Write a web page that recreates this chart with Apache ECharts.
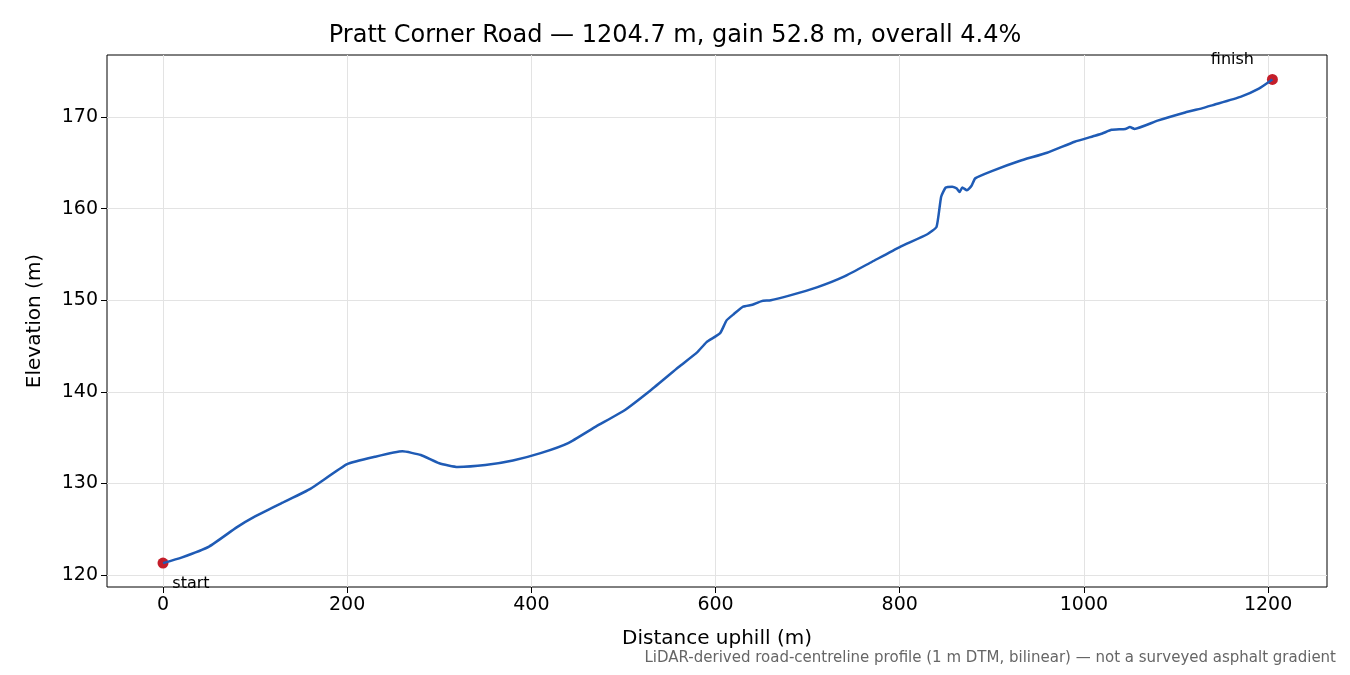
<!DOCTYPE html>
<html><head><meta charset="utf-8">
<script src="https://cdn.jsdelivr.net/npm/echarts@6/dist/echarts.min.js"></script>
<style>html,body{margin:0;background:#fff}#c{width:1350px;height:675px}</style>
</head><body><div id="c"></div>
<script>
var distance = [0,20,50,80,100,130,160,200,230,260,280,300,320,350,380,410,440,470,500,530,560,580,590,605,612,620,630,640,650,660,680,710,740,770,800,830,840,845,850,857,862,865,868,873,878,882,900,930,960,990,1010,1020,1030,1045,1050,1055,1080,1110,1130,1140,1170,1190,1204.7];
var elevation = [121.3,121.9,123.1,125.2,126.4,127.9,129.4,132.1,132.9,133.5,133.1,132.2,131.8,132.0,132.5,133.3,134.4,136.2,137.9,140.2,142.7,144.3,145.4,146.4,147.8,148.5,149.3,149.5,149.9,150.0,150.5,151.4,152.6,154.2,155.8,157.2,158.0,161.3,162.3,162.4,162.2,161.8,162.3,162.0,162.5,163.3,164.1,165.2,166.1,167.3,167.9,168.2,168.6,168.7,168.9,168.7,169.6,170.5,171.0,171.3,172.2,173.1,174.1];
var xTicks = [0,200,400,600,800,1000,1200];
var yTicks = [120,130,140,150,160,170];

var line = distance.map(function(d,i){return [d,elevation[i]];});
var ends = [[distance[0],elevation[0]],[distance[distance.length-1],elevation[elevation.length-1]]];
var font = 'DejaVu Sans';
var chart = echarts.init(document.getElementById('c'));
chart.setOption({
  animation:false,
  title:{text:'Pratt Corner Road — 1204.7 m, gain 52.8 m, overall 4.4%',left:'center',top:19,
    textStyle:{fontFamily:font,fontSize:24,fontWeight:'normal',color:'#000'}},
  graphic:[{type:'text',right:14,top:651,style:{text:'LiDAR-derived road-centreline profile (1 m DTM, bilinear) — not a surveyed asphalt gradient',
    fontFamily:font,fontSize:15,fill:'#666'}}],
  grid:{left:107,right:23,top:55,bottom:88,show:true,borderColor:'#000',borderWidth:1},
  xAxis:{type:'value',min:-60.8,max:1264,name:'Distance uphill (m)',nameLocation:'middle',nameGap:42,
    nameTextStyle:{fontFamily:font,fontSize:20,color:'#000'},
    axisLine:{show:false,onZero:false},
    axisTick:{show:true,customValues:xTicks,length:6,lineStyle:{color:'#000'}},
    axisLabel:{customValues:xTicks,fontFamily:font,fontSize:19,color:'#000',margin:9,formatter:function(v){return String(v);}},
    splitLine:{show:true,lineStyle:{color:'#e3e3e3'}}},
  yAxis:{type:'value',min:118.69,max:176.77,name:'Elevation (m)',nameLocation:'middle',nameGap:62,
    nameTextStyle:{fontFamily:font,fontSize:20,color:'#000'},
    axisLine:{show:false,onZero:false},
    axisTick:{show:true,customValues:yTicks,length:6,lineStyle:{color:'#000'}},
    axisLabel:{customValues:yTicks,fontFamily:font,fontSize:19,color:'#000',margin:9},
    splitLine:{show:true,lineStyle:{color:'#e3e3e3'}}},
  series:[
    {type:'line',data:line,showSymbol:false,smooth:0.15,lineStyle:{color:'#1f5bb5',width:2.5}},
    {type:'scatter',data:ends,symbolSize:11,itemStyle:{color:'#c41e2a',opacity:1},
      label:{show:true,fontFamily:font,fontSize:16,color:'#000',
        formatter:function(p){return p.dataIndex===0?'start':'finish';},
        position:'bottom'},
      labelLayout:function(p){return p.dataIndex===0?{dx:28,dy:2}:{dx:-40,dy:-38};}}
  ]
});
</script></body></html>
